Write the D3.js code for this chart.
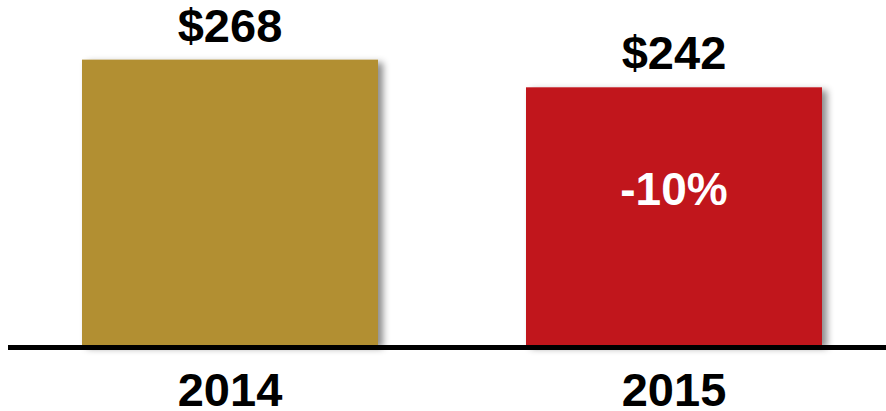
<!DOCTYPE html>
<html>
<head>
<meta charset="utf-8">
<script src="https://cdn.jsdelivr.net/npm/d3@7"></script>
<style>
  html, body { margin: 0; padding: 0; background: #fff; }
  svg { display: block; }
  text { font-family: "Liberation Sans", Arial, sans-serif; font-weight: bold; }
</style>
</head>
<body>
<div id="chart"></div>
<script>
// Annual spend per year
const years = ["2014", "2015"];
const values = [268, 242];
const valueLabels = ["$268", "$242"];
const changeLabels = [null, "-10%"];
const barColors = ["#B28F30", "#C1171D"];

const width = 886, height = 411;
const baseline = 345;

const svg = d3.select("#chart").append("svg")
  .attr("width", width)
  .attr("height", height);

// soft drop shadow to the lower right of each bar
const defs = svg.append("defs");
const f = defs.append("filter")
  .attr("id", "barShadow")
  .attr("x", "-10%").attr("y", "-10%")
  .attr("width", "130%").attr("height", "130%");
f.append("feDropShadow")
  .attr("dx", 5).attr("dy", 3)
  .attr("stdDeviation", 3.5)
  .attr("flood-color", "#000")
  .attr("flood-opacity", 0.45);

const x = d3.scaleBand()
  .domain(years)
  .range([8, 896])
  .paddingInner(1 / 3)
  .paddingOuter(1 / 6);

const y = d3.scaleLinear()
  .domain([0, 324])
  .range([baseline, 0]);

const data = years.map((yr, i) => ({
  year: yr, value: values[i], label: valueLabels[i],
  change: changeLabels[i], color: barColors[i]
}));

// bars
svg.append("g").selectAll("rect")
  .data(data)
  .join("rect")
  .attr("x", d => x(d.year))
  .attr("y", d => y(d.value))
  .attr("width", x.bandwidth())
  .attr("height", d => y(0) - y(d.value))
  .attr("fill", d => d.color)
  .attr("filter", "url(#barShadow)");

// value labels above bars
svg.append("g").selectAll("text")
  .data(data)
  .join("text")
  .attr("x", d => x(d.year) + x.bandwidth() / 2)
  .attr("y", d => y(d.value) - 18)
  .attr("text-anchor", "middle")
  .attr("font-size", 47)
  .attr("fill", "#000")
  .text(d => d.label);

// change label inside the bar
svg.append("g").selectAll("text")
  .data(data.filter(d => d.change))
  .join("text")
  .attr("x", d => x(d.year) + x.bandwidth() / 2)
  .attr("y", 205)
  .attr("text-anchor", "middle")
  .attr("font-size", 46)
  .attr("fill", "#fff")
  .text(d => d.change);

// baseline axis
const xAxis = d3.axisBottom(x).tickSize(0).tickPadding(0);
const axisG = svg.append("g")
  .attr("transform", `translate(0,${baseline})`)
  .call(xAxis);
axisG.select(".domain").remove();
axisG.append("line")
  .attr("x1", 8).attr("x2", 886)
  .attr("y1", 2.5).attr("y2", 2.5)
  .attr("stroke", "#000")
  .attr("stroke-width", 5);
axisG.selectAll(".tick text")
  .attr("y", 61)
  .attr("dy", 0)
  .attr("font-size", 47)
  .attr("font-family", "'Liberation Sans', Arial, sans-serif")
  .attr("font-weight", "bold")
  .attr("fill", "#000");
</script>
</body>
</html>
